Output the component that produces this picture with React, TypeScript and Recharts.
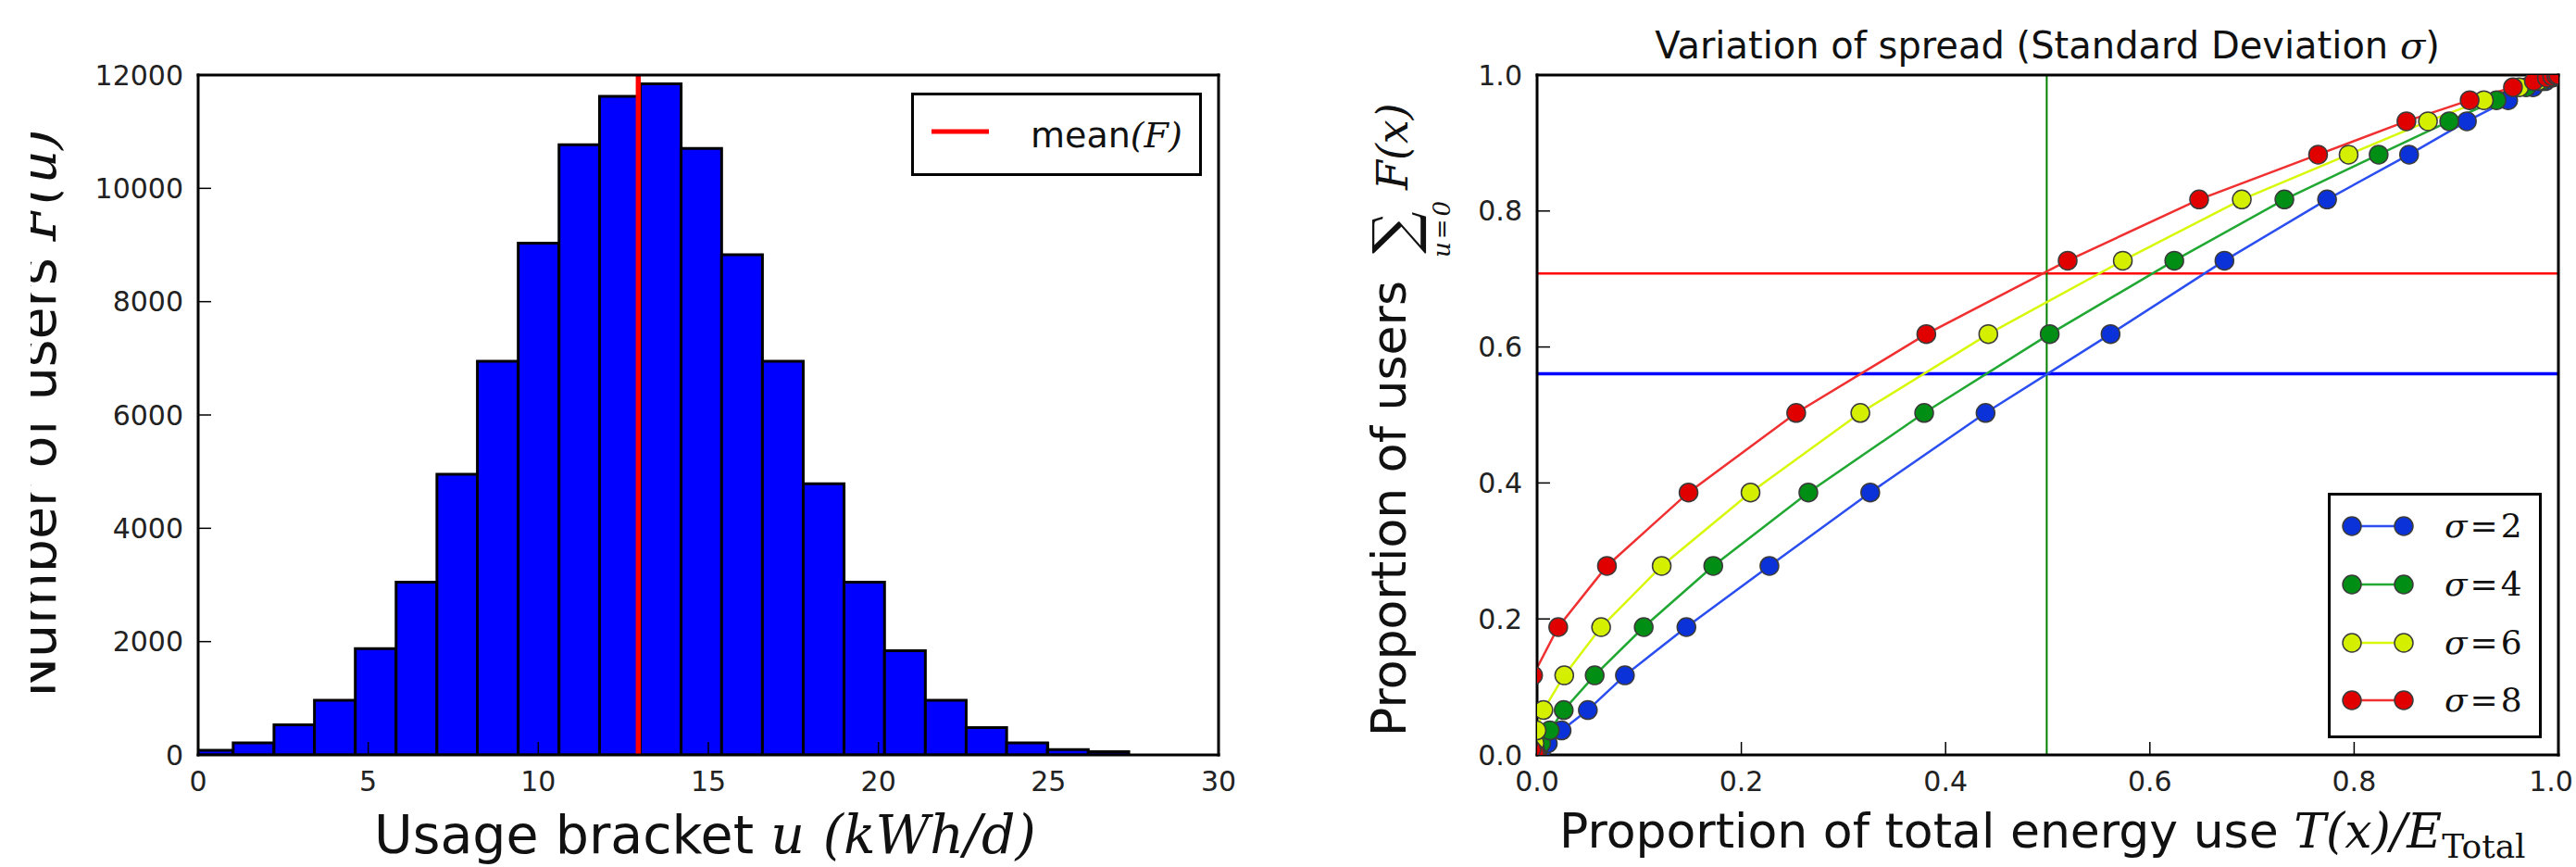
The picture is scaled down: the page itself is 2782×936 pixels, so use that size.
import React from "react";
import {
  ComposedChart,
  Line,
  XAxis,
  YAxis,
  ReferenceArea,
  ReferenceLine,
  Legend,
} from "recharts";

const SANS = "'DejaVu Sans', sans-serif";
const SERIF = "'DejaVu Serif', serif";

// ---- left panel: histogram of daily usage ----
const BIN_EDGES = [
  -0.17, 1.03, 2.23, 3.42, 4.62, 5.82, 7.02, 8.21, 9.41, 10.61, 11.8, 13.0,
  14.2, 15.39, 16.59, 17.79, 18.99, 20.18, 21.38, 22.58, 23.77, 24.97, 26.17,
  27.36,
];
const BIN_COUNTS = [
  80, 212, 530, 966, 1877, 3050, 4952, 6950, 9034, 10768, 11625, 11846, 10705,
  8828, 6950, 4785, 3050, 1838, 966, 482, 212, 95, 56,
];
const MEAN_USAGE = 12.94;
const USAGE_TICKS = [0, 5, 10, 15, 20, 25, 30];
const COUNT_TICKS = [0, 2000, 4000, 6000, 8000, 10000, 12000];

// ---- right panel: cumulative share of users vs share of energy ----
const USER_SHARE = [
  0.0008, 0.003, 0.008, 0.017, 0.036, 0.066, 0.117, 0.188, 0.278, 0.386, 0.503,
  0.619, 0.727, 0.817, 0.883, 0.932, 0.963, 0.982, 0.991, 0.996, 0.998, 0.9995,
  1.0,
];
const ENERGY_SIGMA_2 = [
  0.0004, 0.0016, 0.0046, 0.0105, 0.024, 0.0497, 0.086, 0.1462, 0.2275, 0.3262,
  0.4391, 0.5615, 0.673, 0.7735, 0.8538, 0.9104, 0.9508, 0.9752, 0.9873, 0.9942,
  0.997, 0.9993, 1.0,
];
const ENERGY_SIGMA_4 = [
  0.0, 0.0002, 0.0013, 0.004, 0.0125, 0.0261, 0.0564, 0.1044, 0.1725, 0.2656,
  0.379, 0.5019, 0.6239, 0.7317, 0.824, 0.8931, 0.9394, 0.9684, 0.9835, 0.9923,
  0.996, 0.999, 1.0,
];
const ENERGY_SIGMA_6 = [
  -0.0004, -0.0012, -0.0021, -0.0025, -0.0005, 0.0062, 0.0266, 0.0627, 0.122,
  0.209, 0.3165, 0.4418, 0.5735, 0.69, 0.7946, 0.8723, 0.927, 0.9616, 0.9798,
  0.9905, 0.995, 0.9988, 1.0,
];
const ENERGY_SIGMA_8 = [
  -0.0009, -0.0026, -0.0055, -0.009, -0.0126, -0.0131, -0.0039, 0.0207, 0.0684,
  0.1483, 0.2537, 0.3811, 0.5195, 0.6482, 0.7647, 0.8512, 0.9131, 0.9555, 0.976,
  0.9887, 0.994, 0.998, 1.0,
];
const SIGMAS = [2, 4, 6, 8];
const SHARE_TICKS = [0, 0.2, 0.4, 0.6, 0.8, 1.0];
const RED_LEVEL = 0.708;
const BLUE_LEVEL = 0.5607;
const HALF_ENERGY = 0.499;

const CURVE_STYLE = [
  { marker: "#0a32d8", line: "#2a4ef0" },
  { marker: "#008e14", line: "#20a832" },
  { marker: "#d4f000", line: "#d8f80a" },
  { marker: "#e00000", line: "#f03030" },
];
const ENERGY_BY_SIGMA = [ENERGY_SIGMA_2, ENERGY_SIGMA_4, ENERGY_SIGMA_6, ENERGY_SIGMA_8];

const bins = BIN_COUNTS.map((count, i) => ({ x0: BIN_EDGES[i], x1: BIN_EDGES[i + 1], count }));
const meanLine = [
  { u: MEAN_USAGE, n: 0 },
  { u: MEAN_USAGE, n: 12000 },
];
const curves = SIGMAS.map((sigma, i) => ({
  sigma,
  ...CURVE_STYLE[i],
  points: ENERGY_BY_SIGMA[i].map((energy, j) => ({ energy, share: USER_SHARE[j] })),
}));

const AXIS_LINE = { stroke: "#000", strokeWidth: 3, strokeLinecap: "square" as const };
const TICK_LINE = { stroke: "#000", strokeWidth: 1.5 };
const TICK_TEXT = { fontSize: 30, fill: "#222", fontFamily: SANS };

// bottom tick of the right panel; the last label is nudged so it stays on the page
function EnergyTick(props: any) {
  const { x, y, payload } = props;
  const nudge = payload.value >= 1 ? -8 : 0;
  return (
    <text x={x + nudge} y={y} dy={21} textAnchor="middle" fontSize={30} fill="#222" fontFamily={SANS}>
      {Number(payload.value).toFixed(1)}
    </text>
  );
}

function UsageLabel() {
  return (
    <text x={404} y={921} fontFamily={SANS} fontSize={57} fill="#111">
      Usage bracket{" "}
      <tspan fontFamily={SERIF} fontStyle="italic">u</tspan>
      <tspan fontFamily={SERIF} fontStyle="italic" dx={20}>(kWh/d)</tspan>
    </text>
  );
}

function UsersLabel() {
  return (
    <g>
      <defs>
        <clipPath id="usersLabelClip">
          <rect x={33} y={0} width={120} height={936} />
        </clipPath>
      </defs>
      <g clipPath="url(#usersLabelClip)">
        <text
          transform="rotate(-90, 60, 446)"
          x={60}
          y={446}
          textAnchor="middle"
          fontFamily={SANS}
          fontSize={57}
          fill="#111"
        >
          Number of users <tspan fontFamily={SERIF} fontStyle="italic">F(u)</tspan>
        </text>
      </g>
    </g>
  );
}

function MeanLegend() {
  return (
    <div
      style={{
        boxSizing: "border-box",
        width: 314,
        height: 90,
        border: "3px solid #000",
        background: "#fff",
      }}
    >
      <svg width={308} height={84} style={{ display: "block" }}>
        <line x1={19} x2={81} y1={39} y2={39} stroke="#ff0000" strokeWidth={5} />
        <text x={126} y={56} fontFamily={SANS} fontSize={38} fill="#111">
          mean<tspan fontFamily={SERIF} fontStyle="italic">(F)</tspan>
        </text>
      </svg>
    </div>
  );
}

function TitleLabel() {
  return (
    <text x={811} y={63} textAnchor="middle" fontFamily={SANS} fontSize={40} fill="#111">
      Variation of spread (Standard Deviation{" "}
      <tspan fontFamily={SERIF} fontStyle="italic">σ</tspan>)
    </text>
  );
}

function EnergyLabel() {
  return (
    <text x={284} y={915} fontFamily={SANS} fontSize={52} fill="#111">
      Proportion of total energy use{" "}
      <tspan fontFamily={SERIF} fontStyle="italic">T(x)/E</tspan>
      <tspan fontFamily={SERIF} fontSize={36} dy={11}>Total</tspan>
    </text>
  );
}

function ShareLabel() {
  return (
    <g transform="translate(118,795) rotate(-90)" fill="#111">
      <text x={0} y={0} fontFamily={SANS} fontSize={52}>
        Proportion of users
      </text>
      <text x={521} y={10} fontFamily={SERIF} fontSize={64}>
        ∑
      </text>
      <text x={517} y={48} fontFamily={SERIF} fontStyle="italic" fontSize={26} letterSpacing={3}>
        u=0
      </text>
      <text x={590} y={2} fontFamily={SERIF} fontStyle="italic" fontSize={46}>
        F(x)
      </text>
    </g>
  );
}

function SigmaLegend() {
  const rows = [33, 96, 159, 221];
  return (
    <div
      style={{
        boxSizing: "border-box",
        width: 231,
        height: 265,
        border: "3px solid #000",
        background: "#fff",
      }}
    >
      <svg width={225} height={259} style={{ display: "block" }}>
        {curves.map((c, i) => (
          <g key={c.sigma}>
            <line x1={23} x2={79} y1={rows[i]} y2={rows[i]} stroke={c.line} strokeWidth={2.5} />
            <circle cx={23} cy={rows[i]} r={10} fill={c.marker} stroke="#3a3a3a" strokeWidth={1.5} />
            <circle cx={79} cy={rows[i]} r={10} fill={c.marker} stroke="#3a3a3a" strokeWidth={1.5} />
            <text x={123} y={rows[i] + 12} fontFamily={SERIF} fontSize={36} fill="#111" letterSpacing={3}>
              <tspan fontStyle="italic">σ</tspan>={c.sigma}
            </text>
          </g>
        ))}
      </svg>
    </div>
  );
}

export default function App() {
  return (
    <div
      style={{
        position: "absolute",
        left: 0,
        top: 0,
        width: 2782,
        height: 936,
        background: "#fff",
        overflow: "hidden",
      }}
    >
      <div style={{ position: "absolute", left: 0, top: 0 }}>
        <ComposedChart width={1400} height={936} margin={{ top: 80, right: 83, bottom: 120, left: 213 }}>
          <XAxis
            xAxisId="b"
            type="number"
            dataKey="u"
            domain={[0, 30]}
            ticks={USAGE_TICKS}
            allowDataOverflow
            interval={0}
            height={1}
            axisLine={AXIS_LINE}
            tickLine={TICK_LINE}
            tickSize={-14}
            tickMargin={32}
            tick={TICK_TEXT}
            label={() => <UsageLabel />}
          />
          <XAxis
            xAxisId="t"
            orientation="top"
            type="number"
            domain={[0, 30]}
            ticks={USAGE_TICKS}
            allowDataOverflow
            interval={0}
            height={1}
            axisLine={AXIS_LINE}
            tickLine={TICK_LINE}
            tickSize={-14}
            tick={false}
          />
          <YAxis
            yAxisId="l"
            type="number"
            domain={[0, 12000]}
            ticks={COUNT_TICKS}
            allowDataOverflow
            interval={0}
            width={1}
            axisLine={AXIS_LINE}
            tickLine={TICK_LINE}
            tickSize={-14}
            tickMargin={30}
            tick={TICK_TEXT}
            label={() => <UsersLabel />}
          />
          <YAxis
            yAxisId="r"
            orientation="right"
            type="number"
            domain={[0, 12000]}
            ticks={COUNT_TICKS}
            allowDataOverflow
            interval={0}
            width={1}
            axisLine={AXIS_LINE}
            tickLine={TICK_LINE}
            tickSize={-14}
            tick={false}
          />
          {bins.map((b) => (
            <ReferenceArea
              key={b.x0}
              xAxisId="b"
              yAxisId="l"
              x1={b.x0}
              x2={b.x1}
              y1={0}
              y2={b.count}
              fill="#0000ff"
              fillOpacity={1}
              stroke="#000"
              strokeWidth={3}
              ifOverflow="hidden"
            />
          ))}
          <Line
            xAxisId="b"
            yAxisId="l"
            data={meanLine}
            dataKey="n"
            stroke="#ff0000"
            strokeWidth={5.5}
            dot={false}
            isAnimationActive={false}
          />
          <Legend
            layout="vertical"
            align="center"
            verticalAlign="middle"
            wrapperStyle={{ left: 984, top: 100, width: 314, height: 90 }}
            content={() => <MeanLegend />}
          />
        </ComposedChart>
      </div>

      <div style={{ position: "absolute", left: 1400, top: 0 }}>
        <ComposedChart width={1382} height={936} margin={{ top: 80, right: 18, bottom: 120, left: 259 }}>
          <XAxis
            xAxisId="b"
            type="number"
            dataKey="energy"
            domain={[0, 1]}
            ticks={SHARE_TICKS}
            allowDataOverflow
            interval={0}
            height={1}
            axisLine={AXIS_LINE}
            tickLine={TICK_LINE}
            tickSize={-14}
            tickMargin={32}
            tick={<EnergyTick />}
            label={() => <EnergyLabel />}
          />
          <XAxis
            xAxisId="t"
            orientation="top"
            type="number"
            domain={[0, 1]}
            ticks={SHARE_TICKS}
            allowDataOverflow
            interval={0}
            height={1}
            axisLine={AXIS_LINE}
            tickLine={TICK_LINE}
            tickSize={-14}
            tick={false}
            label={() => <TitleLabel />}
          />
          <YAxis
            yAxisId="l"
            type="number"
            domain={[0, 1]}
            ticks={SHARE_TICKS}
            allowDataOverflow
            interval={0}
            width={1}
            axisLine={AXIS_LINE}
            tickLine={TICK_LINE}
            tickSize={-14}
            tickMargin={30}
            tick={TICK_TEXT}
            tickFormatter={(v: number) => v.toFixed(1)}
            label={() => <ShareLabel />}
          />
          <YAxis
            yAxisId="r"
            orientation="right"
            type="number"
            domain={[0, 1]}
            ticks={SHARE_TICKS}
            allowDataOverflow
            interval={0}
            width={1}
            axisLine={AXIS_LINE}
            tickLine={TICK_LINE}
            tickSize={-14}
            tick={false}
          />
          <ReferenceLine xAxisId="b" yAxisId="l" y={RED_LEVEL} stroke="#ff0000" strokeWidth={2.5} />
          <ReferenceLine xAxisId="b" yAxisId="l" y={BLUE_LEVEL} stroke="#0000ff" strokeWidth={3.5} />
          <ReferenceLine xAxisId="b" yAxisId="l" x={HALF_ENERGY} stroke="#008000" strokeWidth={2} />
          {curves.map((c) => (
            <Line
              key={c.sigma}
              xAxisId="b"
              yAxisId="l"
              data={c.points}
              dataKey="share"
              type="linear"
              stroke={c.line}
              strokeWidth={2.5}
              dot={{ r: 10, fill: c.marker, stroke: "#3a3a3a", strokeWidth: 1.5 }}
              isAnimationActive={false}
            />
          ))}
          <Legend
            layout="vertical"
            align="center"
            verticalAlign="middle"
            wrapperStyle={{ left: 1114, top: 532, width: 231, height: 265 }}
            content={() => <SigmaLegend />}
          />
        </ComposedChart>
      </div>
    </div>
  );
}
